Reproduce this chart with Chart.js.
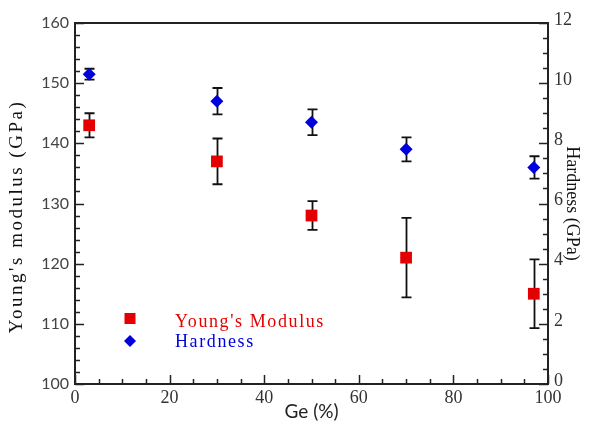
<!DOCTYPE html>
<html><head><meta charset="utf-8">
<script src="https://cdn.jsdelivr.net/npm/chart.js@4"></script>
<style>html,body{margin:0;padding:0;background:#fff}</style>
</head><body>
<canvas id="c" width="590" height="424" style="width:590px;height:424px;display:block"></canvas>
<script>
// ---- data ----
const geContent = [3, 30, 50, 70, 97];
const youngsModulus = [143, 137, 128, 121, 115];
const youngsErr = [2.0, 3.8, 2.4, 6.6, 5.7];
const hardness = [10.3, 9.4, 8.7, 7.8, 7.2];
const hardnessErr = [0.18, 0.44, 0.43, 0.40, 0.37];
const xTickLabels = [0, 20, 40, 60, 80, 100];
const leftTickLabels = [100, 110, 120, 130, 140, 150, 160];
const rightTickLabels = [0, 2, 4, 6, 8, 10, 12];

const RED = 'rgb(228,0,0)';
const BLUE = 'rgb(0,0,222)';
const AXIS = '#222';

const has = (arr, v) => arr.some(t => Math.abs(t - v) < 1e-9);

const errorBars = {
  id: 'errorBars',
  beforeDatasetsDraw(chart) {
    const ctx = chart.ctx;
    ctx.save();
    ctx.strokeStyle = '#111';
    ctx.lineWidth = 1.8;
    chart.data.datasets.forEach((ds) => {
      const ys = chart.scales[ds.yAxisID];
      const xs = chart.scales.x;
      ds.data.forEach((pt, j) => {
        const px = Math.round(xs.getPixelForValue(pt.x)) + 0.5;
        const top = ys.getPixelForValue(pt.y + ds.errors[j]);
        const bot = ys.getPixelForValue(pt.y - ds.errors[j]);
        ctx.beginPath();
        ctx.moveTo(px, top); ctx.lineTo(px, bot);
        ctx.moveTo(px - 5, top); ctx.lineTo(px + 5, top);
        ctx.moveTo(px - 5, bot); ctx.lineTo(px + 5, bot);
        ctx.stroke();
      });
    });
    ctx.restore();
  }
};

const frameTicks = {
  id: 'frameTicks',
  afterDraw(chart) {
    const ctx = chart.ctx, a = chart.chartArea;
    ctx.save();
    ctx.strokeStyle = AXIS;
    ctx.lineWidth = 1.5;
    const xs = chart.scales.x, yl = chart.scales.y, yr = chart.scales.y2;
    ctx.beginPath();
    xs.ticks.forEach(t => {
      const p = Math.round(xs.getPixelForValue(t.value)) + 0.5;
      const len = has(xTickLabels, t.value) ? 9 : 5;
      ctx.moveTo(p, a.bottom); ctx.lineTo(p, a.bottom - len);
    });
    yl.ticks.forEach(t => {
      const p = Math.round(yl.getPixelForValue(t.value)) + 0.5;
      const len = has(leftTickLabels, t.value) ? 9 : 5;
      ctx.moveTo(a.left, p); ctx.lineTo(a.left + len, p);
    });
    yr.ticks.forEach(t => {
      const p = Math.round(yr.getPixelForValue(t.value)) + 0.5;
      const len = has(rightTickLabels, t.value) ? 9 : 5;
      ctx.moveTo(a.right, p); ctx.lineTo(a.right - len, p);
    });
    ctx.stroke();
    ctx.lineWidth = 2;
    ctx.strokeRect(a.left, a.top, a.right - a.left, a.bottom - a.top);
    ctx.restore();
  }
};

const innerLegend = {
  id: 'innerLegend',
  afterDraw(chart) {
    const ctx = chart.ctx, a = chart.chartArea;
    ctx.save();
    ctx.font = '18px "Liberation Serif", "Times New Roman", serif';
    ctx.letterSpacing = '1.6px';
    ctx.textBaseline = 'alphabetic';
    const rows = [{cy: 318.5, base: 327}, {cy: 341, base: 347}];
    chart.data.datasets.forEach((ds, i) => {
      const r = rows[i];
      const mx = a.left + 55;
      ctx.fillStyle = ds.backgroundColor;
      ctx.beginPath();
      if (ds.pointStyle === 'rect') {
        ctx.rect(mx - 5.5, r.cy - 5.5, 11, 11);
      } else {
        ctx.moveTo(mx - 6, r.cy); ctx.lineTo(mx, r.cy - 6);
        ctx.lineTo(mx + 6, r.cy); ctx.lineTo(mx, r.cy + 6);
        ctx.closePath();
      }
      ctx.fill();
      ctx.fillText(ds.label, a.left + 100, r.base);
    });
    ctx.restore();
  }
};

const titleStyle = {
  id: 'titleStyle',
  beforeDraw(chart) {
    const s = chart.scales.y;
    if (s && !s._styledTitle) {
      const orig = s.drawTitle;
      s.drawTitle = function (...args) {
        const ctx = this.ctx;
        ctx.save();
        ctx.letterSpacing = '2.5px';
        ctx.translate(0, 13);
        orig.apply(this, args);
        ctx.restore();
      };
      s._styledTitle = true;
    }
  }
};

new Chart(document.getElementById('c'), {
  type: 'scatter',
  data: {
    datasets: [
      {
        label: "Young's Modulus",
        data: geContent.map((x, i) => ({x, y: youngsModulus[i]})),
        errors: youngsErr,
        yAxisID: 'y',
        pointStyle: 'rect',
        pointRadius: 8.3,
        pointHoverRadius: 8.3,
        backgroundColor: RED,
        borderColor: RED,
        borderWidth: 0
      },
      {
        label: 'Hardness',
        data: geContent.map((x, i) => ({x, y: hardness[i]})),
        errors: hardnessErr,
        yAxisID: 'y2',
        pointStyle: 'rectRot',
        pointRadius: 6.5,
        pointHoverRadius: 6.5,
        backgroundColor: BLUE,
        borderColor: BLUE,
        borderWidth: 0
      }
    ]
  },
  options: {
    responsive: false,
    animation: false,
    devicePixelRatio: 1,
    layout: {padding: {top: 23, left: 0, right: 0, bottom: 0}},
    plugins: {legend: {display: false}, tooltip: {enabled: false}, title: {display: false}},
    scales: {
      x: {
        type: 'linear', min: 0, max: 100,
        afterFit(s) { s.height = 40; },
        grid: {display: false, drawTicks: false},
        border: {display: false},
        ticks: {
          stepSize: 5, autoSkip: false, maxRotation: 0, padding: 3,
          color: '#333',
          font: {family: '"Liberation Serif", serif', size: 18},
          callback: v => has(xTickLabels, v) ? String(v) : ''
        },
        title: {
          display: true, text: 'Ge (%)', color: '#222',
          font: {family: 'Lato, "Open Sans", sans-serif', size: 19},
          padding: {top: 0, bottom: 1}
        }
      },
      y: {
        type: 'linear', position: 'left', min: 100, max: 160,
        afterFit(s) { s.width = 75; },
        grid: {display: false, drawTicks: false},
        border: {display: false},
        ticks: {
          stepSize: 2, autoSkip: false, padding: 6, color: '#444',
          font: {family: 'Lato, "Open Sans", sans-serif', size: 16},
          callback: v => has(leftTickLabels, v) ? String(v) : ''
        },
        title: {
          display: true, text: "Young's modulus (GPa)", color: '#111',
          font: {family: '"Liberation Serif", serif', size: 19},
          padding: {top: 6, bottom: 0}
        }
      },
      y2: {
        type: 'linear', position: 'right', min: 0, max: 12,
        afterFit(s) { s.width = 42; },
        grid: {display: false, drawTicks: false},
        border: {display: false},
        ticks: {
          stepSize: 0.5, autoSkip: false, padding: 6, color: '#333',
          labelOffset: -3,
          font: {family: '"Liberation Serif", serif', size: 18},
          callback: v => has(rightTickLabels, v) ? String(v) : ''
        },
        title: {
          display: true, text: 'Hardness (GPa)', color: '#111',
          font: {family: '"Liberation Serif", serif', size: 18},
          padding: {top: 7, bottom: 0}
        }
      }
    }
  },
  plugins: [titleStyle, errorBars, frameTicks, innerLegend]
});
</script>
</body></html>
